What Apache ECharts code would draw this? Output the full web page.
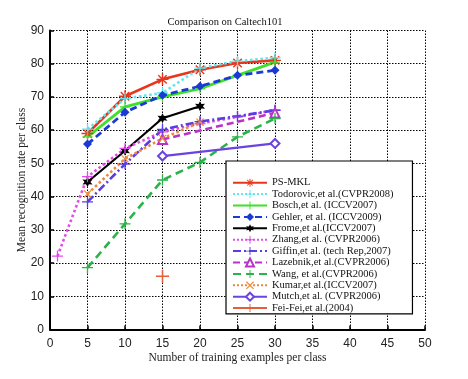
<!DOCTYPE html>
<html>
<head>
<meta charset="utf-8">
<script src="https://cdn.jsdelivr.net/npm/echarts@6/dist/echarts.min.js"></script>
<style>html,body{margin:0;padding:0;background:#fff}#c{width:468px;height:379px}</style>
</head>
<body>
<div id="c"></div>
<script>
// ---- data ----
var xTicks = [0,5,10,15,20,25,30,35,40,45,50];
var yTicks = [0,10,20,30,40,50,60,70,80,90];
var names = ['PS-MKL','Todorovic,et al.(CVPR2008)','Bosch,et al. (ICCV2007)','Gehler, et al. (ICCV2009)','Frome,et al.(ICCV2007)','Zhang,et al. (CVPR2006)','Giffin,et al. (tech Rep,2007)','Lazebnik,et al.(CVPR2006)','Wang, et al.(CVPR2006)','Kumar,et al.(ICCV2007)','Mutch,et al. (CVPR2006)','Fei-Fei,et al.(2004)'];
var psmklX = [5,10,15,20,25,30],      psmklY = [59,70.2,75.3,78.2,80.2,81];
var todoX = [5,10,15,20,25,30],       todoY = [60.3,69.5,71.2,78.7,80.8,81.8];
var boschX = [5,10,15,20,25,30],      boschY = [58,67,70,72.5,76.5,80.5];
var gehlerX = [5,10,15,20,25,30],     gehlerY = [55.8,65.4,70.5,73.2,76.5,78];
var fromeX = [5,10,15,20],            fromeY = [44.4,53.8,63.6,67.2];
var zhangX = [1,5,10,15,20,25,30],    zhangY = [22.1,46,54.5,59.5,62,64,66];
var griffinX = [5,10,15,20,25,30],    griffinY = [38.4,49.8,60.2,62.6,64.2,66];
var lazebnikX = [15,30],              lazebnikY = [57.2,65.2];
var wangX = [5,10,15,20,25,30],       wangY = [18.6,31.8,45,50.3,58,63.5];
var kumarX = [5,10,15,20],            kumarY = [40.8,51.4,57.5,62.4];
var mutchX = [15,30],                 mutchY = [52.2,56];
var feifeiX = [15],                   feifeiY = [16];

function pts(xs, ys){ return xs.map(function(x,i){ return [x, ys[i]]; }); }

var PLUS = 'path://M-0.7,-6h1.4v12h-1.4zM-6,-0.7h12v1.4h-12z';
var AST = 'path://M-0.7,-6h1.4v12h-1.4zM-6,-0.7h12v1.4h-12zM-4.7,-3.7l1,-1l8.4,8.4l-1,1zM3.7,-4.7l1,1l-8.4,8.4l-1,-1z';
var XM = 'path://M-4.7,-3.7l1,-1l8.4,8.4l-1,1zM3.7,-4.7l1,1l-8.4,8.4l-1,-1z';
var STAR = 'path://M0,-6L1.5,-2.6L5.2,-3L3,0L5.2,3L1.5,2.6L0,6L-1.5,2.6L-5.2,3L-3,0L-5.2,-3L-1.5,-2.6Z';

function mk(name, xs, ys, color, type, width, symbol, size){
  return {
    name: name, type: 'line', data: pts(xs, ys),
    symbol: symbol, symbolSize: size, showSymbol: true,
    lineStyle: {color: color, width: width, type: type},
    itemStyle: {color: color, borderColor: color, borderWidth: symbol.indexOf('empty')===0 ? 1.3 : 0},
    emphasis: {disabled: true}, animation: false, z: 3
  };
}

var series = [
  mk(names[0], psmklX, psmklY, '#e8361c', 'solid', 2.6, AST, 12),
  mk(names[1], todoX, todoY, '#5fe6ee', 'dotted', 2.6, PLUS, 11),
  mk(names[2], boschX, boschY, '#3ee02a', 'solid', 2.8, PLUS, 10),
  mk(names[3], gehlerX, gehlerY, '#1a3ad8', [7,4], 2.8, 'diamond', 9),
  mk(names[4], fromeX, fromeY, '#000000', 'solid', 2.2, STAR, 10),
  mk(names[5], zhangX, zhangY, '#e04ce8', 'dotted', 2.6, PLUS, 11),
  mk(names[6], griffinX, griffinY, '#5a3de2', [8,3,2,3], 2.6, PLUS, 11),
  mk(names[7], lazebnikX, lazebnikY, '#b834c8', [7,4], 2.6, 'emptyTriangle', 9),
  mk(names[8], wangX, wangY, '#2cb24a', [8,5], 2.6, PLUS, 11),
  mk(names[9], kumarX, kumarY, '#ee8a3c', 'dotted', 2.6, XM, 8),
  mk(names[10], mutchX, mutchY, '#6a44e0', 'solid', 2.2, 'emptyDiamond', 9),
  mk(names[11], feifeiX, feifeiY, '#e2603a', 'solid', 2, PLUS, 13)
];

var chart = echarts.init(document.getElementById('c'), null, {renderer: 'canvas'});
var gridStyle = {show: true, lineStyle: {color: '#000', type: [1.5,1.5], width: 1}};
chart.setOption({
  animation: false,
  backgroundColor: '#fff',
  title: {
    text: 'Comparison on Caltech101', left: 220, top: 12, textAlign: 'center',
    textStyle: {fontFamily: 'Liberation Serif', fontSize: 10.5, fontWeight: 'normal', color: '#111'}
  },
  grid: {left: 50, right: 43, top: 30.5, bottom: 49.5},
  xAxis: {
    type: 'value', min: 0, max: 50, interval: 5,
    name: 'Number of training examples per class', nameLocation: 'middle', nameGap: 22,
    nameMoveOverlap: false,
    nameTextStyle: {fontFamily: 'Liberation Serif', fontSize: 11.5, color: '#222'},
    axisLine: {show: true, lineStyle: {color: '#000', width: 2}},
    axisTick: {show: true, inside: true, length: 4, lineStyle: {color: '#000', width: 1.5}},
    axisLabel: {fontFamily: 'Liberation Sans', fontSize: 12, color: '#222', margin: 8,
      formatter: function(v){ return xTicks.indexOf(v) >= 0 ? String(v) : ''; }},
    splitLine: gridStyle
  },
  yAxis: {
    type: 'value', min: 0, max: 90, interval: 10,
    name: 'Mean recognition rate per class', nameLocation: 'middle', nameGap: 22,
    nameMoveOverlap: false,
    nameTextStyle: {fontFamily: 'Liberation Serif', fontSize: 11.5, color: '#222'},
    axisLine: {show: true, lineStyle: {color: '#000', width: 2}},
    axisTick: {show: true, inside: true, length: 4, lineStyle: {color: '#000', width: 1.5}},
    axisLabel: {fontFamily: 'Liberation Sans', fontSize: 12, color: '#222', margin: 6,
      formatter: function(v){ return yTicks.indexOf(v) >= 0 ? String(v) : ''; }},
    splitLine: gridStyle
  },
  legend: {
    orient: 'vertical', left: 226, top: 161,
    padding: [16, 19, 0, 6], itemGap: 0,
    itemWidth: 34, itemHeight: 10,
    backgroundColor: '#fff', borderColor: '#000', borderWidth: 1.2,
    textStyle: {fontFamily: 'Liberation Serif', fontSize: 10.5, color: '#111', lineHeight: 11.4, padding: [0,0,0,0]},
    data: names
  },
  series: series
});
</script>
</body>
</html>
